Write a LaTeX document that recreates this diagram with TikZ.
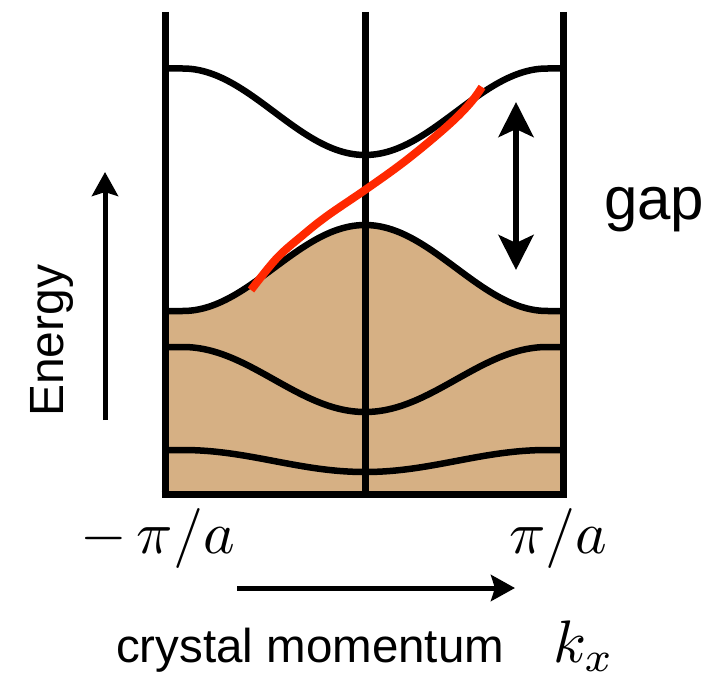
\documentclass[tikz,border=0pt]{standalone}
\usepackage{graphicx}
\usepackage{fontspec}
\setmainfont{Liberation Sans}
\usetikzlibrary{arrows.meta}
\definecolor{bandfill}{RGB}{214,176,132}
\definecolor{edgered}{RGB}{255,40,0}
\begin{document}
\begin{tikzpicture}[x=1pt,y=-1pt,
  bandline/.style={line width=6.5pt},
  frameline/.style={line width=7pt},
  edgestate/.style={edgered,line width=8pt},
  label/.style={inner sep=0pt},
  axisarrow/.style={line width=5pt,-{Stealth[length=24pt,width=26pt,inset=4pt]}},
  gaparrow/.style={line width=6pt,{Stealth[length=35pt,width=35pt,inset=8pt]}-{Stealth[length=35pt,width=35pt,inset=8pt]}},
  declare function={bandf(\t)=(1-cos(min(180,abs(\t-365)*0.98814)))/2;}]
\useasboundingbox (0,0) rectangle (728,679);
% filled valence region
\fill[bandfill] plot[domain=165:563,samples=160] (\x,{225+(311-225)*bandf(\x)})
  -- (563,494) -- (165,494) -- cycle;
% bands
\foreach \C/\E in {155/68.5, 225/311, 412/347, 472/450}
  \draw[bandline] plot[domain=165:563,samples=160] (\x,{\C+(\E-\C)*bandf(\x)});
% frame
\draw[frameline] (165,12) -- (165,497.5);
\draw[frameline] (365,12) -- (365,497.5);
\draw[frameline] (563,12) -- (563,497.5);
\draw[frameline] (161.5,494) -- (566.5,494);
% edge state
\draw[edgestate] plot[smooth,tension=0.6] coordinates {(251,290) (277,258) (303,235) (327,216) (365,190) (400,165) (430,141) (455,119) (472,101) (482,87)};
% gap arrow
\coordinate (gtop) at (516,102);
\coordinate (gbot) at (516,270);
\draw[gaparrow] (gtop) -- (gbot);
\node[label,anchor=base west,font=\fontsize{60}{60}\selectfont] (gap) at (604,220) {gap};
% energy axis
\coordinate (etail) at (105,420);
\coordinate (ehead) at (105,172);
\draw[axisarrow] (etail) -- (ehead);
\node[label,rotate=90,anchor=base west,font=\fontsize{48}{48}\selectfont] (energy) at (63,417) {Energy};
% k axis
\node[label,anchor=base] (kmin) at (157.5,553) {\scalebox{6}{$-\,\pi/a$}};
\node[label,anchor=base] (kmax) at (558.5,553) {\scalebox{6}{$\pi/a$}};
\coordinate (ktail) at (237,588);
\coordinate (khead) at (515,588);
\draw[axisarrow] (ktail) -- (khead);
\node[label,anchor=base west,font=\fontsize{47.5}{47.5}\selectfont] (cm) at (116,662) {crystal momentum};
\node[label,anchor=base west] (kx) at (553,662) {\scalebox{6}{$k_x$}};
\end{tikzpicture}
\end{document}
